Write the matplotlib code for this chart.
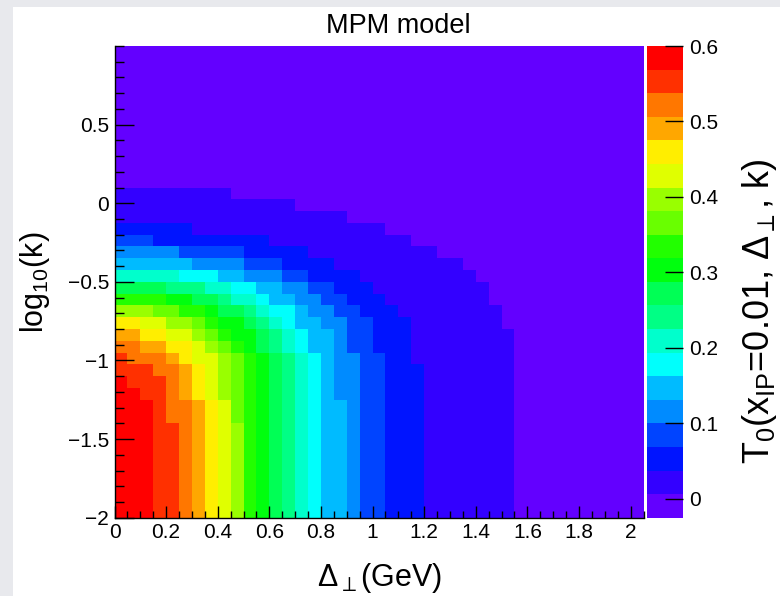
import numpy as np
import matplotlib
matplotlib.use("Agg")
import matplotlib.pyplot as plt
from matplotlib.colors import ListedColormap, BoundaryNorm, hsv_to_rgb
from matplotlib.patches import Rectangle
from matplotlib.ticker import MultipleLocator

plt.rcParams['font.family'] = ['Liberation Sans', 'DejaVu Sans']
plt.rcParams['mathtext.fontset'] = 'custom'
plt.rcParams['mathtext.rm'] = 'Liberation Sans'
plt.rcParams['mathtext.it'] = 'Liberation Sans'
plt.rcParams['mathtext.default'] = 'regular'

title = "MPM model"
x_title = r"$\Delta_{\perp}$(GeV)"
y_title = r"log$_{10}$(k)"
z_title = r"T$_{0}$(x$_{IP}$=0.01, $\Delta_{\perp}$, k)"

# histogram binning (Delta_perp in GeV, log10 k)
delta_edges = np.linspace(0.0, 2.05, 42)
logk_edges = np.linspace(-2.0, 1.0, 41)

z_min, z_max = -0.025, 0.6
n_levels = 20

x_ticks = [0, 0.2, 0.4, 0.6, 0.8, 1.0, 1.2, 1.4, 1.6, 1.8, 2.0]
x_labels = ["0", "0.2", "0.4", "0.6", "0.8", "1", "1.2", "1.4", "1.6", "1.8", "2"]
y_ticks = [-2, -1.5, -1, -0.5, 0, 0.5]
y_labels = ["\u22122", "\u22121.5", "\u22121", "\u22120.5", "0", "0.5"]
z_ticks = [0, 0.1, 0.2, 0.3, 0.4, 0.5, 0.6]
z_labels = ["0", "0.1", "0.2", "0.3", "0.4", "0.5", "0.6"]

# colour band of every cell, 0..9 then a..j (= 10..19)
# one string per log10(k) bin, top row first; one character per Delta bin
band_rows = [
    "00000000000000000000000000000000000000000",
    "00000000000000000000000000000000000000000",
    "00000000000000000000000000000000000000000",
    "00000000000000000000000000000000000000000",
    "00000000000000000000000000000000000000000",
    "00000000000000000000000000000000000000000",
    "00000000000000000000000000000000000000000",
    "00000000000000000000000000000000000000000",
    "00000000000000000000000000000000000000000",
    "00000000000000000000000000000000000000000",
    "00000000000000000000000000000000000000000",
    "00000000000000000000000000000000000000000",
    "11111111100000000000000000000000000000000",
    "11111111111111000000000000000000000000000",
    "11111111111111111100000000000000000000000",
    "22222211111111111111100000000000000000000",
    "33322222222211111111111000000000000000000",
    "44444333332222211111111110000000000000000",
    "55555544443332222111111111100000000000000",
    "77777666554443322221111111110000000000000",
    "99998887766554433222111111111000000000000",
    "bbbbaa998776554433222" + "11111111" + "000000000000",
    "dddccbba99876654433222" + "11111111" + "00000000000",
    "ffeeddcbaa98765544332221" + "111111" + "00000000000",
    "ggffeedcbaa9876554332221" + "1111111" + "0000000000",
    "hhggffedcba9876554332221" + "1111111" + "0000000000",
    "ihhhgfeedcba987654433221" + "1111111" + "0000000000",
    "iiihhgfedcba987654433222" + "1111111" + "0000000000",
    "jiiihgfedcba987654433222" + "1111111" + "0000000000",
    "jjiihgfedcba987654433222" + "1111111" + "0000000000",
    "jjjihhgfecba987655433222" + "1111111" + "0000000000",
    "jjjihhgfecba987655433222" + "1111111" + "0000000000",
    "jjjiihgfedba987655433222" + "1111111" + "0000000000",
    "jjjiihgfedba987655433222" + "1111111" + "0000000000",
    "jjjiihgfedba987655433222" + "1111111" + "0000000000",
    "jjjiihgfedba987655433222" + "1111111" + "0000000000",
    "jjjiihgfedba987655433222" + "1111111" + "0000000000",
    "jjjiihgfedba987655433222" + "1111111" + "0000000000",
    "jjjiihgfedba987655433222" + "1111111" + "0000000000",
    "jjjiihgfedba987655433222" + "1111111" + "0000000000",
]

bands = np.array([[int(ch, 20) for ch in row] for row in band_rows[::-1]])
step = (z_max - z_min) / n_levels
t0 = z_min + (bands + 0.5) * step

# ROOT "pretty" violet->red palette, 20 contours
hues = [280 - (int((j + 0.99) * 50 / n_levels) + 1) * 280 / 50 for j in range(n_levels)]
palette = ListedColormap([hsv_to_rgb((h / 360.0, 1.0, 1.0)) for h in hues])
levels = np.linspace(z_min, z_max, n_levels + 1)
norm = BoundaryNorm(levels, n_levels)

W, H = 780, 596
fig = plt.figure(figsize=(W / 100, H / 100), dpi=100)
fig.patch.set_facecolor("#e8e9ed")
fig.add_artist(Rectangle((12.7 / W, 0), 1, 1 - 6.7 / H, transform=fig.transFigure,
                         facecolor="white", edgecolor="none", zorder=-10))

ax = fig.add_axes([114.5 / W, 1 - 517.7 / H, 529 / W, 471.7 / H])
mesh = ax.pcolormesh(delta_edges, logk_edges, t0, cmap=palette, norm=norm)
ax.set_xlim(0, 2.05)
ax.set_ylim(-2, 1)

ax.set_xticks(x_ticks, x_labels)
ax.set_yticks(y_ticks, y_labels)
ax.xaxis.set_minor_locator(MultipleLocator(0.05))
ax.yaxis.set_minor_locator(MultipleLocator(0.1))
ax.tick_params(which="both", direction="in", top=False, right=False, width=1, labelsize=15)
ax.tick_params(axis="x", which="major", length=8.6, pad=4)
ax.tick_params(axis="x", which="minor", length=5)
ax.tick_params(axis="y", which="major", length=13.5, pad=4)
ax.tick_params(axis="y", which="minor", length=6.7)
for s in ["top", "right"]:
    ax.spines[s].set_visible(False)
for s in ["left", "bottom"]:
    ax.spines[s].set_linewidth(1)

cax = fig.add_axes([646.7 / W, 1 - 517.7 / H, 36.6 / W, 471.7 / H])
cb = fig.colorbar(mesh, cax=cax)
cb.outline.set_visible(False)
cb.set_ticks(z_ticks, labels=z_labels)
cax.tick_params(direction="in", length=13, width=1, labelsize=15, pad=4)
cax.minorticks_off()

fig.text(398 / W, 1 - 26 / H, title, ha="center", va="center", fontsize=19.5)
fig.text(379 / W, 1 - 578 / H, x_title, ha="center", va="center", fontsize=22)
fig.text(35 / W, 1 - 282 / H, y_title, ha="center", va="center", rotation=90, fontsize=22)
fig.text(740 / W, 1 - 311 / H, z_title, ha="left", va="center", rotation=90, fontsize=26)

fig.savefig("out.png", dpi=100, facecolor=fig.get_facecolor())
